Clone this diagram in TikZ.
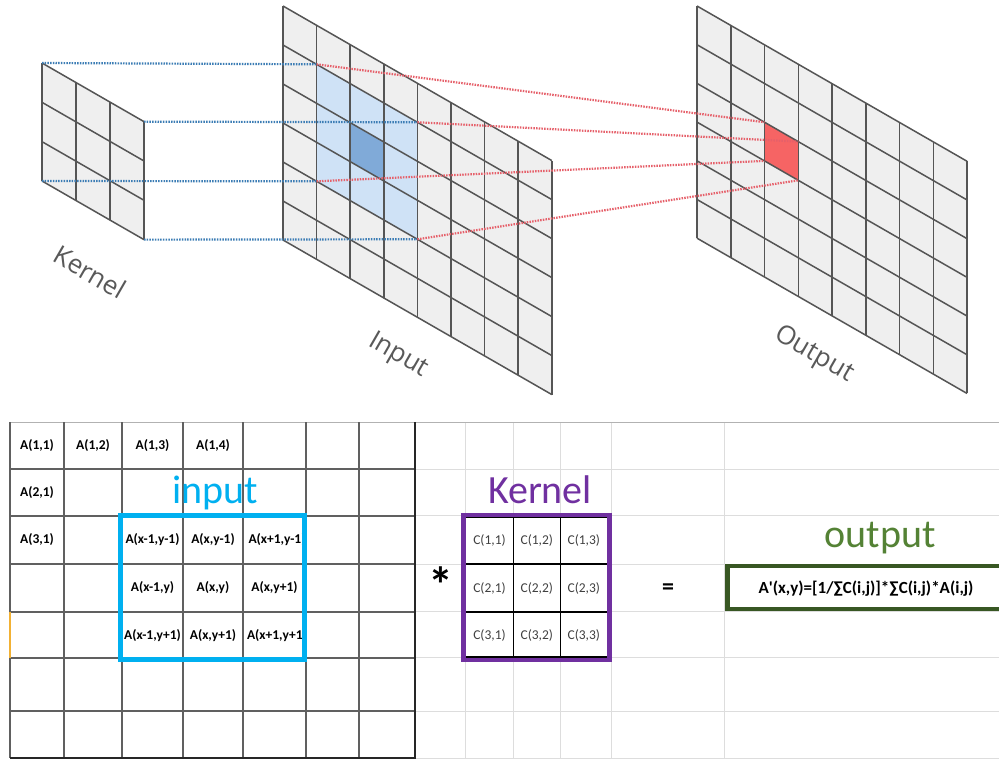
\documentclass[tikz,border=0pt]{standalone}
\usepackage{fontspec}
\setmainfont{Carlito}
\newfontfamily\planefont{Open Sans}
\definecolor{gridline}{HTML}{555555}
\definecolor{cellgray}{HTML}{EFEFEF}
\definecolor{lightblue}{HTML}{CFE2F6}
\definecolor{darkblue}{HTML}{80AAD8}
\definecolor{redcell}{HTML}{F66464}
\definecolor{bluedot}{HTML}{3C7DB5}
\definecolor{reddot}{HTML}{E6606A}
\definecolor{sheetline}{HTML}{606060}
\definecolor{faintline}{HTML}{DDDDDD}
\definecolor{xlcyan}{HTML}{00B0F0}
\definecolor{xlpurple}{HTML}{7030A0}
\definecolor{xlgreen}{HTML}{548235}
\definecolor{boxgreen}{HTML}{385723}
\definecolor{xlorange}{HTML}{F2B134}

\begin{document}
\begin{tikzpicture}[x=1pt,y=-1pt,
  gridln/.style={draw=gridline,line width=1.5pt},
  bluedots/.style={draw=bluedot,line width=2.2pt,dash pattern=on 1.5pt off 1.2pt},
  reddots/.style={draw=reddot,line width=2.2pt,dash pattern=on 1.5pt off 1.2pt},
  planelabel/.style={font=\planefont\fontsize{26}{26}\selectfont,text=black!65,rotate=-30},
  acell/.style={font=\bfseries\fontsize{13.5}{14}\selectfont},
  ccell/.style={font=\fontsize{13.5}{14}\selectfont,text=black!75},
  bigword/.style={font=\fontsize{40}{40}\selectfont,anchor=base},
  sheetln/.style={draw=sheetline,line width=1.2pt},
  faintln/.style={draw=faintline,line width=1pt}]
\useasboundingbox (0,0) rectangle (999,759);
\clip (0,0) rectangle (999,759);
\fill[white] (0,0) rectangle (999,759);

% kernel plane, 3x3
\begin{scope}[shift={(42,63)},yslant=-0.575]
\fill[cellgray] (0,0) -- (102,0) -- (102,118) -- (0,118) -- cycle;
\foreach \i in {0,...,3} \draw[gridln] (\i*34,0) -- (\i*34,118);
\foreach \j in {0,...,3} \draw[gridln] (0,\j*39.33) -- (102,\j*39.33);
\coordinate (kTL) at (0,0);
\coordinate (kTR) at (102,0);
\coordinate (kBL) at (0,118);
\coordinate (kBR) at (102,118);
\end{scope}

% input plane, 8x6
\begin{scope}[shift={(283,6)},yslant=-0.575]
\fill[cellgray] (0,0) -- (268.8,0) -- (268.8,234) -- (0,234) -- cycle;
\fill[lightblue] (33.6,39) -- (134.4,39) -- (134.4,156) -- (33.6,156) -- cycle;
\fill[darkblue] (67.2,78) -- (100.8,78) -- (100.8,117) -- (67.2,117) -- cycle;
\foreach \i in {0,...,8} \draw[gridln] (\i*33.6,0) -- (\i*33.6,234);
\foreach \j in {0,...,6} \draw[gridln] (0,\j*39) -- (268.8,\j*39);
\coordinate (bTL) at (33.6,39);
\coordinate (bTR) at (134.4,39);
\coordinate (bBL) at (33.6,156);
\coordinate (bBR) at (134.4,156);
\end{scope}

% output plane, 8x6
\begin{scope}[shift={(697,6)},yslant=-0.575]
\fill[cellgray] (0,0) -- (270,0) -- (270,232.2) -- (0,232.2) -- cycle;
\fill[redcell] (67.5,77.4) -- (101.25,77.4) -- (101.25,116.1) -- (67.5,116.1) -- cycle;
\foreach \i in {0,...,8} \draw[gridln] (\i*33.75,0) -- (\i*33.75,232.2);
\foreach \j in {0,...,6} \draw[gridln] (0,\j*38.7) -- (270,\j*38.7);
\coordinate (rTL) at (67.5,77.4);
\coordinate (rTR) at (101.25,77.4);
\coordinate (rBL) at (67.5,116.1);
\coordinate (rBR) at (101.25,116.1);
\end{scope}

% projection lines
\draw[bluedots] (kTL) -- (bTL);
\draw[bluedots] (kTR) -- (bTR);
\draw[bluedots] (kBL) -- (bBL);
\draw[bluedots] (kBR) -- (bBR);
\draw[reddots] (bTL) -- (rTL);
\draw[reddots] (bTR) -- (rTR);
\draw[reddots] (bBL) -- (rBL);
\draw[reddots] (bBR) -- (rBR);

\node[planelabel] (kernellabel) at (90,272) {Kernel};
\node[planelabel] (inputlabel) at (398,356) {Input};
\node[planelabel] (outputlabel) at (814,355) {Output};

% spreadsheet, right part
\foreach \x in {465.6,513.3,560.3,611,724.8} \draw[faintln] (\x,422) -- (\x,759);
\foreach \y in {469,515,564,611,657,711,758} \draw[faintln] (415,\y) -- (999,\y);
\draw[draw=black!30,line width=1pt] (10,422) -- (999,422);

% spreadsheet, left part
\foreach \x in {10,64,122,183,243,306,359} \draw[sheetln] (\x,422) -- (\x,758);
\foreach \y in {469,516,564,612,658,711} \draw[sheetln] (10,\y) -- (415,\y);
\draw[black!85,line width=2.4pt] (10,758) -- (415,758);
\draw[black!85,line width=2.4pt] (415,422) -- (415,759);
\draw[xlorange,line width=1.5pt] (10,612) -- (10,658);

\foreach \x/\y/\t/\n in {37/446/{A(1,1)}/a11, 93/446/{A(1,2)}/a12, 152.5/446/{A(1,3)}/a13,
  213/446/{A(1,4)}/a14, 37/493/{A(2,1)}/a21, 37/540/{A(3,1)}/a31,
  152.5/540/{A(x-1,y-1)}/am1, 213/540/{A(x,y-1)}/am2,
  152.5/588/{A(x-1,y)}/ac1, 213/588/{A(x,y)}/ac2, 274.5/588/{A(x,y+1)}/ac3,
  152.5/636/{A(x-1,y+1)}/ap1, 213/636/{A(x,y+1)}/ap2}
  \node[acell] (\n) at (\x,\y) {\t};
\begin{scope}
\clip (243,516) rectangle (303,660);
\node[acell,anchor=west] (am3) at (245,540) {A(x+1,y-1)};
\node[acell,anchor=west] (ap3) at (243.5,636) {A(x+1,y+1)};
\end{scope}
\draw[xlcyan,line width=5pt] (120.5,515) rectangle (304,659);
\node[bigword,text=xlcyan] (inputword) at (215,503) {input};

% kernel cells
\foreach \x in {465.6,513.3,560.3,607.2} \draw[black,line width=1.3pt] (\x,517) -- (\x,657);
\foreach \y in {517,564,612,657} \draw[black,line width=1.3pt] (465.6,\y) -- (607.2,\y);
\foreach \c/\x in {1/489.5,2/536.8,3/583.8}
  \foreach \r/\y in {1/540,2/588,3/635}
    \node[ccell] (c\r\c) at (\x,\y) {C(\r,\c)};
\draw[xlpurple,line width=4.5pt] (463.5,515) rectangle (609.5,660);
\node[bigword,text=xlpurple] (kernelword) at (540,503) {Kernel};

\node[font=\bfseries\fontsize{50}{50}\selectfont,anchor=base] (star) at (441,602) {*};
\node[font=\bfseries\fontsize{24}{24}\selectfont] (equals) at (668,589) {=};

% output cell
\draw[boxgreen,line width=4.3pt] (727.5,566) rectangle (1010,609);
\node[bigword,text=xlgreen] (outputword) at (880,547) {output};
\node[font=\bfseries\fontsize{17}{17}\selectfont] (formula) at (866,589)
  {A\textquotesingle(x,y)=[1/∑C(i,j)]*∑C(i,j)*A(i,j)};
\end{tikzpicture}
\end{document}
